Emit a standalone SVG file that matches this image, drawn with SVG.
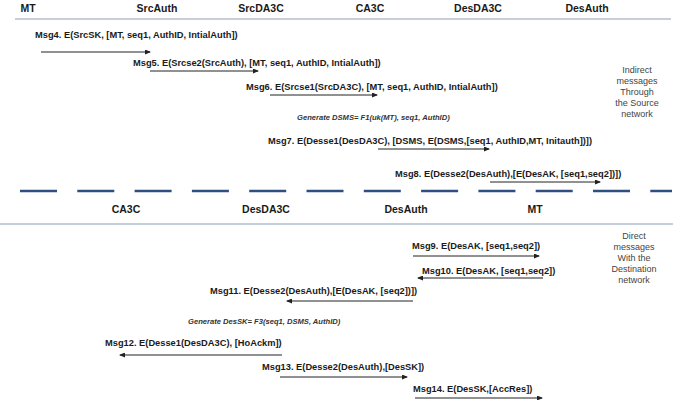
<svg xmlns="http://www.w3.org/2000/svg" width="685" height="400" viewBox="0 0 685 400">
<style>
.hdr{font-family:"Liberation Sans",Arial,sans-serif;font-weight:bold;font-size:10.5px;fill:#1a1a1a;text-anchor:middle}
.msg{font-family:"Liberation Sans",Arial,sans-serif;font-weight:bold;font-size:9.3px;fill:#1a1a1a}
.gen{font-family:"Liberation Sans",Arial,sans-serif;font-weight:bold;font-style:italic;font-size:7.6px;fill:#333}
.note{font-family:"Liberation Sans",Arial,sans-serif;font-size:9px;fill:#444;text-anchor:middle}
.arr{stroke:#222;stroke-width:1;fill:none;marker-end:url(#ah)}
.sep{stroke:#8a9fb8;stroke-width:1.2;fill:none}
.dash{stroke:#2f4f80;stroke-width:2.5;stroke-dasharray:37 20.3;fill:none}
</style>
<defs>
<marker id="ah" markerWidth="6" markerHeight="5" refX="5" refY="2.5" orient="auto" markerUnits="userSpaceOnUse">
<path d="M0,0 L6,2.5 L0,5 Z" fill="#222"/>
</marker>
</defs>
<rect width="685" height="400" fill="#fff"/>
<g id="header-top">
<g id="n-MT"><text class="hdr" x="28" y="12">MT</text></g>
<g id="n-SrcAuth"><text class="hdr" x="157" y="12">SrcAuth</text></g>
<g id="n-SrcDA3C"><text class="hdr" x="261" y="12">SrcDA3C</text></g>
<g id="n-CA3C"><text class="hdr" x="370" y="12">CA3C</text></g>
<g id="n-DesDA3C"><text class="hdr" x="478" y="12">DesDA3C</text></g>
<g id="n-DesAuth"><text class="hdr" x="587" y="12">DesAuth</text></g>
<line class="sep" x1="15" y1="19" x2="671" y2="19"/>
</g>
<g id="header-bottom">
<g id="n2-CA3C"><text class="hdr" x="126" y="213">CA3C</text></g>
<g id="n2-DesDA3C"><text class="hdr" x="266" y="213">DesDA3C</text></g>
<g id="n2-DesAuth"><text class="hdr" x="406" y="213">DesAuth</text></g>
<g id="n2-MT"><text class="hdr" x="535" y="213">MT</text></g>
<line class="sep" x1="0" y1="224" x2="673" y2="224"/>
</g>
<line class="dash" x1="20" y1="191" x2="672" y2="191"/>
<g id="notes">
<text class="note" x="637"><tspan x="637" y="73">Indirect</tspan><tspan x="637" y="84">messages</tspan><tspan x="637" y="95">Through</tspan><tspan x="637" y="106">the Source</tspan><tspan x="637" y="117">network</tspan></text>
<text class="note" x="634"><tspan x="634" y="239">Direct</tspan><tspan x="634" y="250">messages</tspan><tspan x="634" y="261">With the</tspan><tspan x="634" y="272">Destination</tspan><tspan x="634" y="283">network</tspan></text>
</g>
<g id="labels">
<text class="msg" x="35" y="38">Msg4. E(SrcSK, [MT, seq1, AuthID, IntialAuth])</text>
<text class="msg" x="133" y="66">Msg5. E(Srcse2(SrcAuth), [MT, seq1, AuthID, IntialAuth])</text>
<text class="msg" x="246" y="90">Msg6. E(Srcse1(SrcDA3C), [MT, seq1, AuthID, IntialAuth])</text>
<text class="gen" x="297" y="120">Generate DSMS= F1(uk(MT), seq1, AuthID)</text>
<text class="msg" x="268" y="144">Msg7. E(Desse1(DesDA3C), [DSMS, E(DSMS,[seq1, AuthID,MT, Initauth])])</text>
<text class="msg" x="395" y="177">Msg8. E(Desse2(DesAuth),[E(DesAK, [seq1,seq2])])</text>
<text class="msg" x="412" y="249">Msg9. E(DesAK, [seq1,seq2])</text>
<text class="msg" x="422" y="274">Msg10. E(DesAK, [seq1,seq2])</text>
<text class="msg" x="210" y="294">Msg11. E(Desse2(DesAuth),[E(DesAK, [seq2])])</text>
<text class="gen" x="188" y="324">Generate DesSK= F3(seq1, DSMS, AuthID)</text>
<text class="msg" x="105" y="346">Msg12. E(Desse1(DesDA3C), [HoAckm])</text>
<text class="msg" x="262" y="370">Msg13. E(Desse2(DesAuth),[DesSK])</text>
<text class="msg" x="413" y="392">Msg14. E(DesSK,[AccRes])</text>
</g>
<g id="connectors">
<line class="arr" x1="41" y1="52" x2="150" y2="52"/>
<line class="arr" x1="150" y1="71" x2="258" y2="71"/>
<line class="arr" x1="270" y1="95" x2="377" y2="95"/>
<line class="arr" x1="378" y1="149" x2="489" y2="149"/>
<line class="arr" x1="490" y1="182" x2="600" y2="182"/>
<line class="arr" x1="413" y1="256" x2="539" y2="256"/>
<line class="arr" x1="543" y1="278" x2="418" y2="278"/>
<line class="arr" x1="413" y1="301" x2="287" y2="301"/>
<line class="arr" x1="282" y1="355" x2="120" y2="355"/>
<line class="arr" x1="280" y1="377" x2="407" y2="377"/>
<line class="arr" x1="415" y1="398" x2="542" y2="398"/>
</g>
</svg>
